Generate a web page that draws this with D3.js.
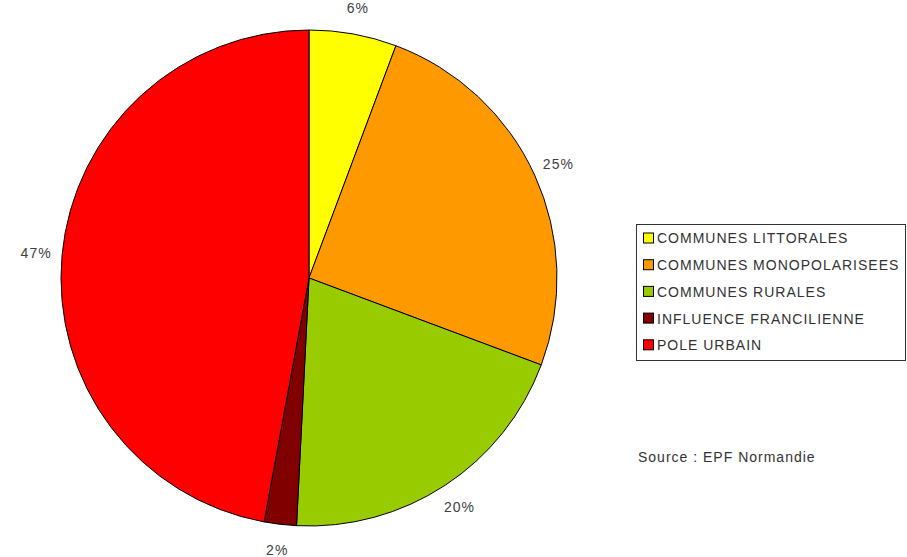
<!DOCTYPE html>
<html>
<head>
<meta charset="utf-8">
<script src="https://cdn.jsdelivr.net/npm/d3@7"></script>
<style>
  body { margin: 0; background: #fff; }
  text { font-family: "Liberation Sans", Arial, sans-serif; letter-spacing: 1px; }
</style>
</head>
<body>
<div id="chart-area"></div>
<script>
// Data
const categories = ["COMMUNES LITTORALES", "COMMUNES MONOPOLARISEES", "COMMUNES RURALES", "INFLUENCE FRANCILIENNE", "POLE URBAIN"];
const values = [5.7, 25.0, 20.1, 2.1, 47.1];
const labels = ["6%", "25%", "20%", "2%", "47%"];
const colors = ["#ffff00", "#ff9900", "#99cc00", "#800000", "#ff0000"];

// Dimensions
const width = 907;
const height = 557;
const cx = 309, cy = 278, radius = 248;

const svg = d3.select("#chart-area")
  .append("svg")
    .attr("width", width)
    .attr("height", height);

const pie = d3.pie().sort(null).value(d => d)(values);
const arc = d3.arc().innerRadius(0).outerRadius(radius);

const g = svg.append("g")
  .attr("transform", "translate(" + cx + "," + cy + ")");

g.selectAll("path")
  .data(pie)
  .enter().append("path")
    .attr("d", arc)
    .attr("fill", (d, i) => colors[i])
    .attr("stroke", "#000")
    .attr("stroke-width", 1);

// percentage labels outside
const labelArc = d3.arc().innerRadius(274).outerRadius(274);
g.selectAll("text.pct")
  .data(pie)
  .enter().append("text")
    .attr("class", "pct")
    .attr("transform", d => "translate(" + labelArc.centroid(d) + ")")
    .attr("text-anchor", "middle")
    .attr("dy", "0.35em")
    .attr("font-size", "14px")
    .attr("fill", "#404040")
    .text((d, i) => labels[i]);

// Legend
const legend = svg.append("g").attr("transform", "translate(636,224)");
legend.append("rect")
  .attr("x", 0.5).attr("y", 0.5)
  .attr("width", 269).attr("height", 136)
  .attr("fill", "#fff")
  .attr("stroke", "#333");

const rows = legend.selectAll("g.row")
  .data(categories)
  .enter().append("g")
    .attr("class", "row")
    .attr("transform", (d, i) => "translate(0," + (14.5 + i * 26.7) + ")");

rows.append("rect")
  .attr("x", 7.5).attr("y", -5.5)
  .attr("width", 10).attr("height", 10)
  .attr("fill", (d, i) => colors[i])
  .attr("stroke", "#000");

rows.append("text")
  .attr("x", 21)
  .attr("dy", "0.35em")
  .attr("font-size", "14px")
  .attr("fill", "#333")
  .text(d => d);

// Source
svg.append("text")
  .attr("x", 638)
  .attr("y", 462)
  .attr("font-size", "14px")
  .attr("fill", "#333")
  .text("Source : EPF Normandie");
</script>
</body>
</html>
